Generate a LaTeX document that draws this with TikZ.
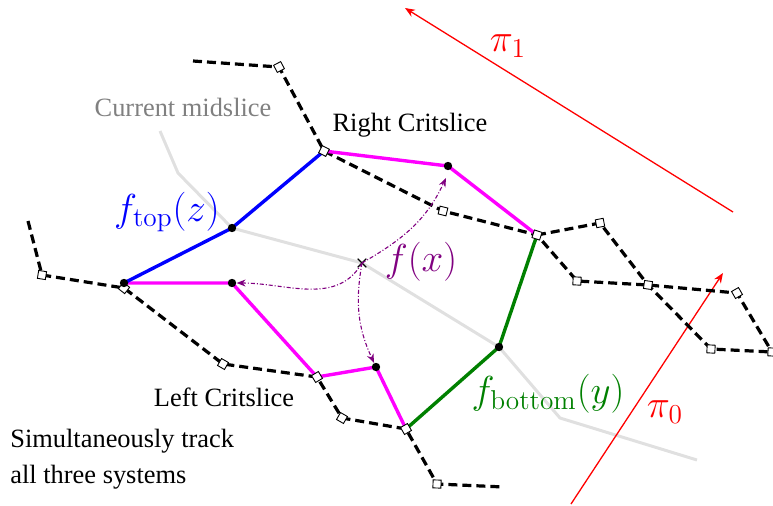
\RequirePackage{fix-cm}
\documentclass[tikz,border=0pt]{standalone}
\usepackage[no-math]{fontspec}
\setmainfont{Liberation Serif}
\usetikzlibrary{arrows.meta,shapes.misc}
\definecolor{mypurple}{RGB}{128,0,128}
\definecolor{mygreen}{RGB}{0,128,0}
\definecolor{mymagenta}{RGB}{255,0,255}
\definecolor{midgray}{RGB}{224,224,224}
\definecolor{labgray}{RGB}{128,128,128}
\begin{document}
\begin{tikzpicture}[x=0.5pt,y=0.5pt,
  crit/.style={line width=1.6pt, dash pattern=on 4.5pt off 2.5pt},
  colline/.style={line width=1.7pt},
  midline/.style={line width=1.5pt, draw=midgray},
  sq/.style={draw, fill=white, rectangle, minimum size=4pt, inner sep=0pt, line width=0.45pt},
  dotn/.style={circle, fill=black, minimum size=4.2pt, inner sep=0pt},
  txt/.style={font=\fontsize{13.2}{16.5}\selectfont},
  mlab/.style={font=\fontsize{19.5}{23}\selectfont},
  piarrow/.style={draw=red, line width=0.65pt, -{Stealth[length=5pt,width=4pt]}},
  farrow/.style={draw=mypurple, line width=0.55pt, dash pattern=on 2pt off 1pt on 0.5pt off 1pt, -{Stealth[length=4.5pt,width=3.5pt]}},
  xmark/.style={cross out, draw=black, line width=0.55pt, minimum size=3.8pt, inner sep=0pt}
]
\useasboundingbox (0,0) rectangle (773,-505);
% vertices
\coordinate (p0) at (193,-61);
\coordinate (S1) at (279,-67);
\coordinate (S2) at (324,-151);
\coordinate (S3) at (443,-211);
\coordinate (S4) at (537,-235);
\coordinate (S5) at (600,-223);
\coordinate (S6) at (577,-281);
\coordinate (S7) at (648,-285);
\coordinate (S8) at (737,-293);
\coordinate (S9) at (711,-349);
\coordinate (S10) at (772,-352);
\coordinate (q0) at (28,-221);
\coordinate (S11) at (42,-275);
\coordinate (S12) at (124,-288);
\coordinate (S13) at (223,-364);
\coordinate (S14) at (317,-377);
\coordinate (S15) at (342,-418);
\coordinate (S16) at (406,-429);
\coordinate (S17) at (437,-484);
\coordinate (q1) at (504,-487);
\coordinate (D1) at (232,-228);
\coordinate (D2) at (448,-166);
\coordinate (D3) at (232,-283);
\coordinate (D4) at (376,-367);
\coordinate (D5) at (499,-347);
\coordinate (D6) at (124,-283);
\coordinate (g0) at (160,-131);
\coordinate (g1) at (178,-173);
\coordinate (m) at (362,-263);
\coordinate (g2) at (560,-418);
\coordinate (g3) at (697,-460);
\coordinate (r1s) at (733,-212);
\coordinate (r1e) at (405,-8);
\coordinate (r0s) at (571,-504);
\coordinate (r0e) at (723,-273);
\coordinate (T) at (446,-178);
% midslice
\draw[midline] (g0) -- (g1) -- (D1) -- (m) -- (D5) -- (g2) -- (g3);
% pi arrows
\draw[piarrow] (r1s) -- (r1e);
\draw[piarrow] (r0s) -- (r0e);
% critslices
\draw[crit] (p0) -- (S1) -- (S2) -- (S3) -- (S4) -- (S6) -- (S7) -- (S8) -- (S10);
\draw[crit] (S4) -- (S5) -- (S7) -- (S9) -- (S10);
\draw[crit] (q0) -- (S11) -- (S12) -- (S13) -- (S14) -- (S15) -- (S16) -- (S17) -- (q1);
% systems
\draw[colline, mymagenta] (D6) -- (D3) -- (S14) -- (D4) -- (S16);
\draw[colline, mymagenta] (S2) -- (D2) -- (S4);
\draw[colline, blue] (D6) -- (D1) -- (S2);
\draw[colline, mygreen] (S4) -- (D5) -- (S16);
% markers
\node[sq, rotate=-62] (n1) at (S1) {};
\node[sq, rotate=-27] (n2) at (S2) {};
\node[sq, rotate=-14] (n3) at (S3) {};
\node[sq, rotate=-18] (n4) at (S4) {};
\node[sq, rotate=11] (n5) at (S5) {};
\node[sq, rotate=-3] (n6) at (S6) {};
\node[sq, rotate=-8] (n7) at (S7) {};
\node[sq, rotate=-60] (n8) at (S8) {};
\node[sq, rotate=-3] (n9) at (S9) {};
\node[sq, rotate=-3] (n10) at (S10) {};
\node[sq, rotate=-9] (n11) at (S11) {};
\node[sq, rotate=-38] (n12) at (S12) {};
\node[sq, rotate=-30] (n13) at (S13) {};
\node[sq, rotate=-59] (n14) at (S14) {};
\node[sq, rotate=-30] (n15) at (S15) {};
\node[sq, rotate=-60] (n16) at (S16) {};
\node[sq, rotate=-2] (n17) at (S17) {};
\node[dotn] (d1) at (D1) {};
\node[dotn] (d2) at (D2) {};
\node[dotn] (d3) at (D3) {};
\node[dotn] (d4) at (D4) {};
\node[dotn] (d5) at (D5) {};
\node[dotn] (d6) at (D6) {};
\node[xmark] (x) at (m) {};
% f(x) arrows
\draw[farrow] (x.center) to[out=-120, in=0] (d3);
\draw[farrow] (x.center) to[out=-100, in=115] (d4);
\draw[farrow] (x.center) to[out=30, in=-115] (T);
% labels
\node[txt, text=labgray] (lmid) at (183,-107) {Current midslice};
\node[txt] (lright) at (410,-125) {Right Critslice};
\node[txt] (lleft) at (224,-397) {Left Critslice};
\node[txt, anchor=west, align=left, inner sep=0pt, font=\fontsize{13.2}{16.5}\selectfont] (lsim) at (10,-459) {Simultaneously track\\[1.5pt]all three systems};
\node[mlab, text=blue] (ltop) at (167,-212) {$f_{\mathrm{top}}(z)$};
\node[mlab, text=mypurple] (lfx) at (421,-262) {$f(x)$};
\node[mlab, text=mygreen] (lbot) at (548,-394) {$f_{\mathrm{bottom}}(y)$};
\node[mlab, text=red] (lpi1) at (508,-46) {$\pi_1$};
\node[mlab, text=red] (lpi0) at (665,-412) {$\pi_0$};
\end{tikzpicture}
\end{document}
